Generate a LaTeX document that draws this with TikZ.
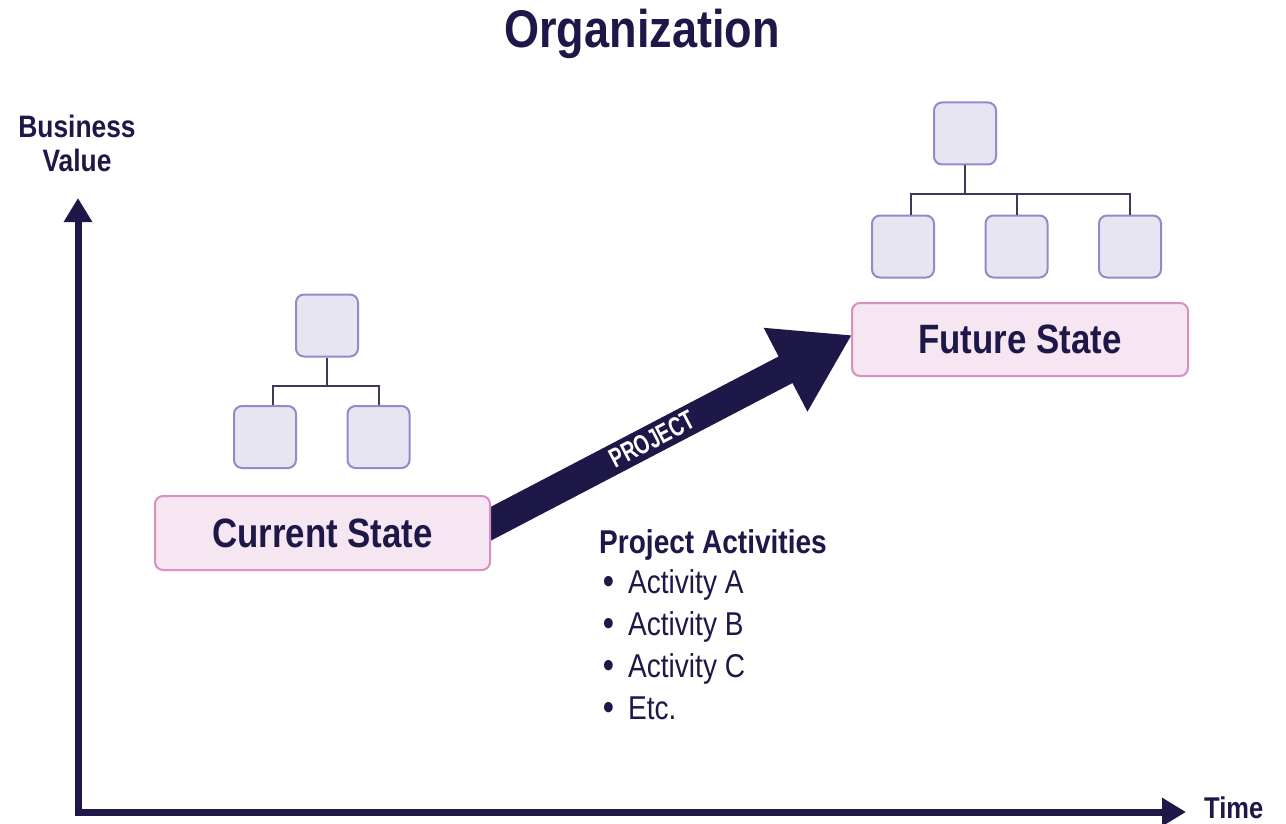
\documentclass[tikz,border=0pt]{standalone}
\usepackage{fontspec}
\setmainfont{Liberation Sans}[FakeStretch=0.85]
\newfontfamily\condfont{Liberation Sans}[FakeStretch=0.72]
\usetikzlibrary{arrows.meta,calc}
\definecolor{navy}{HTML}{1E1848}
\definecolor{boxfill}{HTML}{E8E5F3}
\definecolor{boxline}{HTML}{9C86C6}
\definecolor{statefill}{HTML}{F6E6F1}
\definecolor{stateline}{HTML}{DA8EC2}
\definecolor{treeline}{HTML}{3C3A58}
\begin{document}
\begin{tikzpicture}[x=1pt,y=-1pt,
 orgbox/.style={draw=boxline, fill=boxfill, line width=2pt, rounded corners=8pt, minimum width=62pt, minimum height=62pt, inner sep=0pt},
 statebox/.style={draw=stateline, fill=statefill, line width=2pt, rounded corners=8pt, minimum height=74pt, text=navy, font=\bfseries\fontsize{41}{41}\selectfont},
 tree/.style={draw=treeline, line width=2pt},
 axis/.style={draw=navy, line width=7pt, -{Triangle[length=24pt,width=27pt]}},
 lbl/.style={text=navy, font=\bfseries\fontsize{31}{34}\selectfont, align=center, inner sep=0pt},
 item/.style={text=navy, font=\fontsize{33}{33}\selectfont, inner sep=0pt, anchor=base west},
 bul/.style={text=navy, font=\bfseries\fontsize{36}{36}\selectfont, inner sep=0pt, anchor=base}]
\useasboundingbox (0,0) rectangle (1286,824);
\fill[white] (0,0) rectangle (1286,824);

% title
\node[text=navy, font=\bfseries\fontsize{53}{53}\selectfont] (title) at (642,34) {Organization};

% axes
\coordinate (o) at (78,812);
\coordinate (ytop) at (78,198);
\coordinate (xend) at (1186,812);
\draw[axis] ($(o)+(0,3.5)$) -- (ytop);
\draw[axis] ($(o)+(-3.5,0)$) -- (xend);
\node[lbl] (bv) at (77,143) {Business\\Value};
\node[lbl, anchor=west, font=\bfseries\fontsize{30}{30}\selectfont] (time) at (1204,808) {Time};

% state boxes (positions)
\path (322.5,533) coordinate (cspos) (1020,339.5) coordinate (fspos);

% big arrow (drawn first, boxes cover tail)
\coordinate (astart) at ($(cspos)+(152.5,-1)$);
\coordinate (aend) at ($(fspos)+(-168,-4.5)$);
\draw[navy, line width=30pt, -{Triangle[length=75pt,width=89pt]}] (astart) -- (aend);
\path (astart) -- node[pos=0.47, sloped, text=white, inner sep=0pt, font=\condfont\bfseries\fontsize{27}{27}\selectfont] (proj) {PROJECT} (aend);

\node[statebox, minimum width=335pt] (cs) at (cspos) {Current State};
\node[statebox, minimum width=336pt, minimum height=73pt] (fs) at (fspos) {Future State};

% current tree
\node[orgbox] (ct) at (327,325.5) {};
\node[orgbox] (cl) at (265,437) {};
\node[orgbox] (cr) at (378.5,437) {};
\draw[tree] (ct.south) -- ++(0,28) coordinate (cj);
\draw[tree] ($(cl.north)+(8,0)$) |- (cj) -| (cr.north);

% future tree
\node[orgbox] (ft) at (965,133.5) {};
\node[orgbox] (fl) at (903,246.5) {};
\node[orgbox] (fm) at (1016.5,246.5) {};
\node[orgbox] (fr) at (1130,246.5) {};
\draw[tree] (ft.south) -- ++(0,29) coordinate (fj);
\draw[tree] ($(fl.north)+(8,0)$) |- (fj) -| (fr.north);
\draw[tree] (fm.north) -- (fm.north |- fj);

% project activities
\node[text=navy, font=\bfseries\fontsize{33}{33}\selectfont, inner sep=0pt, anchor=base west] (pa) at (599,553) {Project Activities};
\node[bul] (b1) at (609,593) {•};
\node[item] (i1) at (628,593) {Activity A};
\node[bul] (b2) at (609,635) {•};
\node[item] (i2) at (628,635) {Activity B};
\node[bul] (b3) at (609,677) {•};
\node[item] (i3) at (628,677) {Activity C};
\node[bul] (b4) at (609,719) {•};
\node[item] (i4) at (628,719) {Etc.};
\end{tikzpicture}
\end{document}
